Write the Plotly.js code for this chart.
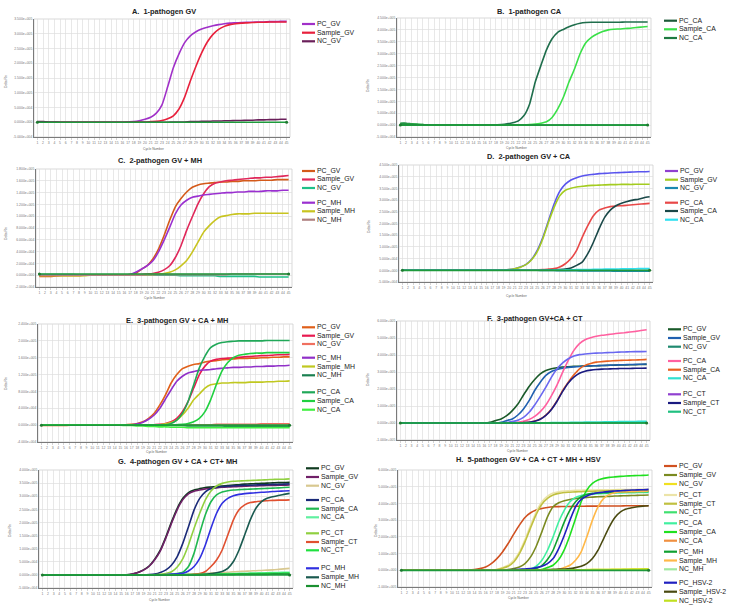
<!DOCTYPE html>
<html><head><meta charset="utf-8">
<script src="https://cdn.plot.ly/plotly-3.0.1.min.js"></script>
<style>html,body{margin:0;padding:0;background:#fff}#chart{width:732px;height:609px}</style>
</head><body><div id="chart"></div>
<script>
// x categories: PCR cycle numbers
const cycles = [1,2,3,4,5,6,7,8,9,10,11,12,13,14,15,16,17,18,19,20,21,22,23,24,25,26,27,28,29,30,31,32,33,34,35,36,37,38,39,40,41,42,43,44,45];

// all Delta Rn values in thousands
// ---- A
const A_PC_GV = [1,1,0,0,0, 0,0,0,0,0, 0,0,0,0,0, 0,1, 2,5,10,17,31, 59,120,185,232,270, 293,307,316,322,327, 331,334,336,337,338, 339,339,340,340,341, 341,342,342];
const A_Sample_GV = [1,1,0,0,0, 0,0,0,0,0, 0,0,0,0,0, 0,0,0,1,1, 2, 3,6,12,22,45, 85,140,190,235,272, 298,315,325,331,334, 336,337,338,339,339, 340,340,340,340];
const A_NC_GV = [2,2,1,1,0, 0,0,0,0,0, 0,0,0,0,0, 0,0,0,0,0, 0,0,0,0,1, 1,1,2,2,3, 3,4,4,5,5, 6,6,7,7,8, 8,9,9,10,10];
// ---- B
const B_PC_CA = [8,8,5,3,2, 1,1,0,0,0, 0,0,0,0,0, 0,0,1, 2,5,10,18,40, 89,181,250,316,363, 390,402,413,422,428, 431,432,432,432,432, 432,432,433,433,433, 433,433];
const B_Sample_CA = [6,6,4,3,2, 1,1,0,0,0, 0,0,0,0,0, 0,0,0,0,0, 0,1,1, 2,4,8,14,32, 68,117,181,237,301, 346,369,383,393,400, 403,404,406,407,410, 412,414];
const B_NC_CA = [4,4,3,2,1, 1,0,0,0,0, 0,0,0,0,0, 0,0,0,0,0, 0,0,0,0,0, 0,0,0,0,0, 0,0,0,0,0, 0,0,0,0,0, 0,0,0,0,0];
// ---- C
const C_PC_GV = [-2,-2,-2,-1,-1, -1,-1,-1,0,0, 0,0,0,0,0, 0, 1,3,10,16,27, 44,67,93,116,130, 141,149,153,155,156, 157,158,158,159,159, 160,160,160,161,161, 161,162,162,162];
const C_Sample_GV = [-1,-1,-1,-1,0, 0,0,0,0,0, 0,0,0,0,0, 0,0,1,1,2, 3, 5,9,16,30,50, 76,99,121,138,150, 156,158,160,161,162, 163,164,165,165,166, 166,167,168,169];
const C_NC_GV = [1,1,1,1,1, 1,1,0,0,0, 0,0,0,0,0, 0,0,0,0,0, 0,0,0,0,0, -1,-1,-1,-1,-1, -1,-1,-2,-2,-2, -2,-2,-2,-2,-3, -3,-3,-3,-3,-3];
const C_PC_MH = [0,0,0,0,0, 0,0,0,0,0, 0,0,0,0,0, 0,1, 5,10,16,24,39, 59,81,104,119,127, 132,134,136,137,138, 139,140,140,141,141, 142,142,142,143,143, 143,144,144];
const C_Sample_MH = [-1,-1,-1,-1,-1, -1,-1,-1,-1,0, 0,0,0,0,0, 0,0,0,0,1, 1,2, 3,5,9,16,25, 39,56,73,84,93, 99,101,103,104,104, 104,105,105,105,105, 105,105,105];
const C_NC_MH = [0,0,0,0,0, 0,0,0,0,0, 0,0,0,0,0, 0,0,0,0,1, 1,1,1,1,1, 1,1,1,1,1, 1,1,1,1,2, 2,2,2,2,2, 2,2,2,2,2];
// ---- D
const D_PC_GV = [0,0,0,0,0, 0,0,0,0,0, 0,0,0,0,0, 0,0,0,1,3, 7,14,25,47,85, 141,212,283,337,368, 386,396,403,407,410, 413,414,416,417,418, 419,420,421,421,422];
const D_Sample_GV = [0,0,0,0,0, 0,0,0,0,0, 0,0,0,0,0, 0,0,0,1,3, 7,13,24,45,80, 135,205,269,318,342, 351,356,359,362,363, 364,365,366,366,367, 367,367,368,368,368];
const D_NC_GV = [0,0,0,0,0, 0,0,0,0,0, 0,0,0,0,0, 0,0,0,0,0, 0,0,0,0,0, -1,-1,-1,-2,-2, -2,-2,-3,-3,-3, -3,-3,-3,-4,-4, -4,-4,-4,-4,-4];
const D_PC_CA = [0,0,0,0,0, 0,0,0,0,0, 0,0,0,0,0, 0,0,0,0,0, 0,0,1,1, 2,3,5,7,14, 28,50,85,141,191, 233,257,266,272,275, 276,278,280,282,284, 286];
const D_Sample_CA = [0,0,0,0,0, 0,0,0,0,0, 0,0,0,0,0, 0,0,0,0,0, 0,0,0,0,0, 1,1, 2,3,5,10,21, 35,71,120,177,226, 257,276,287,294,300, 304,310,314];
const D_NC_CA = [0,0,0,0,0, 0,0,0,0,0, 0,0,0,0,0, 0,0,0,0,0, 0,0,0,0,0, 0,0, 1,1,2,2,3, 3,3,4,4,5, 5,5,6,6,6, 7,7,7];
// ---- E
const E_PC_GV = [-1,-1,-1,-1,-1, 0,0,0,0,0, 0,0,0,0,0, 1,2, 4,8,16,28,48, 72,100,120,134,140, 144,146,150,152,153, 155,156,157,158,158, 159,159,160,160,161, 161,162,162];
const E_Sample_GV = [0,0,0,0,0, 0,0,0,0,0, 0,0,0,0,0, 0,0,0,0,0, 1,2, 4,8,16,32,56, 88,120,140,152,156, 158,159,160,161,162, 163,164,165,165,166, 167,167,168];
const E_NC_GV = [0,0,0,0,0, 0,0,0,0,0, 0,0,0,0,0, 0,0,0,0,0, 0,0,0,0,0, 1,1,1,1,1, 1,2,2,2,2, 2,2,2,2,3, 3,3,3,3,3];
const E_PC_MH = [0,0,0,0,0, 0,0,0,0,0, 0,0,0,0,0, 0,1, 3,7,14,24,40, 62,84,104,116,124, 127,130,131,132,134, 135,136,137,137,138, 138,139,139,140,140, 141,141,142];
const E_Sample_MH = [0,0,0,0,0, 0,0,0,0,0, 0,0,0,0,0, 0,0,0,0,0, 0,1, 3,6,12,24,40, 60,74,88,96,98, 100,100,101,101,101, 102,102,102,103,103, 104,104,105];
const E_NC_MH = [0,0,0,0,0, 0,0,0,0,0, 0,0,0,0,0, 0,0,0,0,0, -1,-1,-1,-1,-1, -1,-2,-2,-2,-2, -2,-2,-2,-3,-3, -3,-3,-3,-3,-3, -3,-3,-3,-3,-3];
const E_PC_CA = [0,0,0,0,0, 0,0,0,0,0, 0,0,0,0,0, 0,0,0,0,0, 0,0,1, 4,12,28,56,96, 136,164,184,192,196, 198,199,200,200,200, 200,200,201,201,201, 201,201];
const E_Sample_CA = [0,0,0,0,0, 0,0,0,0,0, 0,0,0,0,0, 0,0,0,0,0, 0,0,0,0,1,2, 4,8,16,32,60, 96,128,148,160,166, 168,170,171,171,172, 172,172,172,172];
const E_NC_CA = [0,0,0,0,0, 0,0,0,0,0, 0,0,0,0,0, -1,-1,-2,-2,-3, -3,-4,-4,-5,-5, -5,-6,-6,-6,-6, -6,-6,-6,-6,-6, -6,-6,-6,-6,-6, -6,-6,-6,-6,-6];
// ---- F
const F_PC_GV = [0,0,0,0,0, 0,0,0,0,0, 0,0,0,0,0, 0, 4,14,24,43,73, 112,165,215,256,289, 309,319,325,329,331, 333,334,335,336,337, 338,339,340,341,342, 343,343,344,345];
const F_Sample_GV = [0,0,0,0,0, 0,0,0,0,0, 0,0,0,0,0, 0,0,0, 4, 14,24,47,83,132, 191,240,280,303,315, 323,327,330,332,334, 336,337,338,340,341, 342,343,344,345,346, 347];
const F_NC_GV = [0,0,0,0,0, 0,0,0,0,0, 0,0,0,0,0, 0,0,0,0,0, 0,0,0,0,0, 0,0,0,0,0, 1,1,1,1,1, 1,2,2,2,2, 2,2,2,3,3];
const F_PC_CA = [0,0,0,0,0, 0,0,0,0,0, 0,0,0,0,0, 0,0,0,0,0, 2, 4,10,20,39,67, 106,161,224,299,368, 427,467,490,502,510, 516,520,524,528,531, 535,539,544,549];
const F_Sample_CA = [0,0,0,0,0, 0,0,0,0,0, 0,0,0,0,0, 0,0,0,0,0, 0,0,2, 4,12,24,47,83, 132,191,240,283,319, 339,350,358,361,364, 366,368,369,370,371, 372,374];
const F_NC_CA = [0,0,0,0,0, 0,0,0,0,0, 0,0,0,0,0, 0,0,0,0,0, 0,0,0,0,0, 1,1,2,2,3, 3,4,4,5,5, 6,6,7,7,8, 8,9,9,10,10];
const F_PC_CT = [0,0,0,0,0, 0,0,0,0,0, 0,0,0,0,0, 0,0,0,0, 3, 8,16,33,63,106, 157,211,270,319,354, 378,394,402,406,409, 411,412,414,415,417, 418,419,420,420,421];
const F_Sample_CT = [0,0,0,0,0, 0,0,0,0,0, 0,0,0,0,0, 0,0,0,0,0, 0,0,2, 4,10,22,45,80, 128,186,236,270,293, 305,311,315,317,318, 319,320,321,321,322, 322,323];
const F_NC_CT = [0,0,0,0,0, 0,0,0,0,0, 0,0,0,0,0, 0,0,0,0,0, 0,0,0,0,0, 0,0,0,0,0, 0,0,0,0,0, 0,0,0,0,0, 0,0,0,0,0];
// ---- G
const G_PC_GV = [0,0,0,0,0, 0,0,0,0,0, 0,0,0,0,0, 0, 3,9,19,34,60, 95,146,203,254,292, 314,324,329,333,335, 337,339,341,343,344, 346,347,348,349,350, 351,352,352,353];
const G_Sample_GV = [0,0,0,0,0, 0,0,0,0,0, 0,0,0,0,0, 0, 3,9,18,33,58, 92,142,198,249,287, 309,319,324,328,330, 332,334,335,336,337, 338,339,339,340,341, 341,342,342,343];
const G_NC_GV = [0,0,0,0,0, 0,0,0,0,0, 0,0,0,0,0, 0,0,0,0,0, 0,0,0,0,0, 1,2,3,4,6, 7,8,9,10,12, 13,14,15,16,17, 18,19,21,23,25];
const G_PC_CA = [0,0,0,0,0, 0,0,0,0,0, 0,0,0,0,0, 0,0,0,0, 1, 3,9,19,38,70, 121,184,248,292,317, 329,334,337,338,340, 341,342,342,343,344, 344,345,345,346,347];
const G_Sample_CA = [0,0,0,0,0, 0,0,0,0,0, 0,0,0,0,0, 0,0,0,0,0, 0,0,0, 2,5, 10,32,83,159,229, 279,305,316,321,324, 325,326,327,328,329, 330,331,332,333,334];
const G_NC_CA = [0,0,0,0,0, 0,0,0,0,0, 0,0,0,0,0, 0,0,0,0,0, 0,0,0,0,0, 1,1,2,2,3, 3,4,4,5,5, 6,6,7,7,8, 8,9,9,10,10];
const G_PC_CT = [0,0,0,0,0, 0,0,0,0,0, 0,0,0,0,0, 0,0,0,0,0, 0, 2,5,12,30,62, 114,178,235,286,320, 339,349,354,357,358, 359,360,361,362,363, 364,365,365,366];
const G_Sample_CT = [0,0,0,0,0, 0,0,0,0,0, 0,0,0,0,0, 0,0,0,0,0, 0,0,0,0,0, 0, 1,3, 5,13,32,57,95, 152,210,248,267,276, 279,282,283,284,285, 285,286];
const G_NC_CT = [0,0,0,0,0, 0,0,0,0,0, 0,0,0,0,0, 0,0,0,0,0, 0,0,0,0,0, 1,1,1,2,2, 2,3,3,3,4, 4,4,5,5,5, 6,6,6,7,7];
const G_PC_MH = [0,0,0,0,0, 0,0,0,0,0, 0,0,0,0,0, 0,0,0,0,0, 0,0, 1,3, 4,6,15,32,63, 114,178,235,273,292, 302,307,310,312,313, 315,316,318,319,320, 321];
const G_Sample_MH = [0,0,0,0,0, 0,0,0,0,0, 0,0,0,0,0, 0,0,0,0,0, 0,0,0,0,0, 0,0,0,0, 2,5, 8,13,25,51,95, 152,210,254,279,292, 298,303,307,311];
const G_NC_MH = [0,0,0,0,0, 0,0,0,0,0, 0,0,0,0,0, 0,0,0,0,0, 0,0,0,0,0, 0,0,0,0,0, 1,1,1,1,1, 2,2,2,2,2, 2,3,3,3,3];
// ---- H
const H_PC_GV = [2,2,1,1,0, 0,0,0,0,1, 1,1,1, 4,10,20,40,70, 110,160,216,270,316, 344,360,370,376,380, 381,382,382,383,383, 384,384,384,385,385, 385,385,386,386,386, 386,386];
const H_Sample_GV = [0,0,0,0,0, 0,0,0,0,0, 0,0,0,0,0, 0,0, 2,3, 5,10,20,40,80, 144,230,320,380,404, 416,424,430,433,436, 438,440,441,442,444, 445,446,447,448,449, 450];
const H_NC_GV = [2,2,1,0,0, 0,0,0,0,0, 0,0,0,0,0, 0,0,0,0,0, 0,0,0,0,0, 1,1,2,2,2, 3,3,3,4,4, 4,5,5,6,6, 6,7,7,8,8];
const H_PC_CT = [0,0,0,0,0, 0,0,0,0,0, 0,0,0,0,0, 1,2, 5,16,30,60,110, 184,270,350,410,444, 462,470,474,476,478, 479,480,480,481,481, 482,482,483,483,483, 484,484,484];
const H_Sample_CT = [0,0,0,0,0, 0,0,0,0,0, 0,0,0,0,0, 1,2, 4,12,24,50,100, 170,255,335,395,430, 450,460,465,467,469, 470,472,473,474,475, 476,477,477,478,478, 479,479,480];
const H_NC_CT = [0,0,0,0,0, 0,0,0,0,0, 0,0,0,0,0, 0,0,0,0,0, 0,0,0,0,0, 0,0,0,0,0, 1,1,1,1,1, 1,1,2,2,2, 2,2,2,2,2];
const H_PC_CA = [0,0,0,0,0, 0,0,0,0,0, 0,0,0,0,0, 0,0,0,0,0, 0, 2,4, 8,24,60,120,200, 290,360,410,436,448, 454,456,458,459,460, 462,463,464,464,465, 465,466];
const H_Sample_CA = [0,0,0,0,0, 0,0,0,0,0, 0,0,0,0,0, 0,0,0,0,0, 0,0,0, 2,3, 5,16,30,64,124, 210,310,410,480,520, 540,550,556,559,562, 564,566,567,568,570];
const H_NC_CA = [3,3,2,1,0, 0,0,0,0,0, 0,0,0,0,0, 0,0,0,0,0, 0,0,0,0,0, 0,0,0,0,0, 0,0,0,0,0, 0,0,0,0,0, 0,0,0,0,0];
const H_PC_MH = [0,0,0,0,0, 0,0,0,0,0, 0,0,0,0,0, 0,0,0,0,0, 0,0, 2,5, 10,28,64,120,204, 290,360,410,440,454, 460,462,464,465,466, 468,469,470,471,471, 472];
const H_Sample_MH = [0,0,0,0,0, 0,0,0,0,0, 0,0,0,0,0, 0,0,0,0,0, 0,0,0,0,0, 0, 2,3, 5,16,30,60,110, 200,300,380,430,454, 464,468,469,470,471, 472,474];
const H_NC_MH = [0,0,0,0,0, 0,0,0,0,0, 0,0,0,0,0, 0,0,0,0,0, 0,0,0,0,0, 0,0,0,0,0, 0,0,0,0,0, 0,0,0,0,0, 0,0,0,0,0];
const H_PC_HSV2 = [0,0,0,0,0, 0,0,0,0,0, 0,0,0,0,0, 0,0,0,0, 2,4, 6,8,10,16,24, 40,70,130,210,300, 380,424,444,456,464, 468,472,474,476,478, 480,481,482,484];
const H_Sample_HSV2 = [0,0,0,0,0, 0,0,0,0,0, 0,0,0,0,0, 0,0,0,0,0, 0,0,0,0,0, 2,4,6, 7,8,10,16,24, 40,70,120,190,260, 316,350,366,374,380, 384,386];
const H_NC_HSV2 = [0,0,0,0,0, 0,0,0,0,0, 0,0,0,0,0, 0,0,0,0,0, 0,0,0,0,0, 1,1,1,2,2, 2,3,3,3,4, 4,4,5,5,5, 6,6,6,7,7];

// threshold level of each panel (thousands)
const thresholdLevels = [0, 0, 2, 0, 0, 0, 0, 0];

// y-axis tick values (thousands) and labels
const ticks50_350 = [-50,0,50,100,150,200,250,300,350];
const labels50_350 = ["-5.000e+004","0.000e+000","5.000e+004","1.000e+005","1.500e+005","2.000e+005","2.500e+005","3.000e+005","3.500e+005"];
const ticks50_450 = [-50,0,50,100,150,200,250,300,350,400,450];
const labels50_450 = ["-5.000e+004","0.000e+000","5.000e+004","1.000e+005","1.500e+005","2.000e+005","2.500e+005","3.000e+005","3.500e+005","4.000e+005","4.500e+005"];
const ticks20_180 = [-20,0,20,40,60,80,100,120,140,160,180];
const labels20_180 = ["-2.000e+004","0.000e+000","2.000e+004","4.000e+004","6.000e+004","8.000e+004","1.000e+005","1.200e+005","1.400e+005","1.600e+005","1.800e+005"];
const ticks40_240 = [-40,0,40,80,120,160,200,240];
const labels40_240 = ["-4.000e+004","0.000e+000","4.000e+004","8.000e+004","1.200e+005","1.600e+005","2.000e+005","2.400e+005"];
const ticks100_600 = [-100,0,100,200,300,400,500,600];
const labels100_600 = ["-1.000e+005","0.000e+000","1.000e+005","2.000e+005","3.000e+005","4.000e+005","5.000e+005","6.000e+005"];
const ticks50_400 = [-50,0,50,100,150,200,250,300,350,400];
const labels50_400 = ["-5.000e+004","0.000e+000","5.000e+004","1.000e+005","1.500e+005","2.000e+005","2.500e+005","3.000e+005","3.500e+005","4.000e+005"];

const panels = [
 {title:"A.\u00a0 1-pathogen GV", box:[34,290,19,137], yRange:[-50,350], tv:ticks50_350, tt:labels50_350,
  tpos:[163.5,11.7], ypos:[6,82], xpos:[154,149], legX:302, legY:[24,32.7,41.3],
  series:[{name:"PC_GV",y:A_PC_GV,color:"#a030c8"},{name:"Sample_GV",y:A_Sample_GV,color:"#e8203c"},{name:"NC_GV",y:A_NC_GV,color:"#6a1f5a"}]},
 {title:"B.\u00a0 1-pathogen CA", box:[397,651,18,137], yRange:[-50,450], tv:ticks50_450, tt:labels50_450,
  tpos:[529.8,11.7], ypos:[368,86], xpos:[517,148], legX:664, legY:[20.7,29.3,38],
  series:[{name:"PC_CA",y:B_PC_CA,color:"#1f6e4c",key:"#1c5a38"},{name:"Sample_CA",y:B_Sample_CA,color:"#3ae048"},{name:"NC_CA",y:B_NC_CA,color:"#1e7a40"}]},
 {title:"C.\u00a0 2-pathogen GV + MH", box:[36,292,169,287], yRange:[-20,180], tv:ticks20_180, tt:labels20_180,
  tpos:[160.3,160.3], ypos:[6,234], xpos:[155,298], legX:302, legY:[171,179.5,188,202.7,211.3,219.7],
  series:[{name:"PC_GV",y:C_PC_GV,color:"#d45a1a"},{name:"Sample_GV",y:C_Sample_GV,color:"#e0285a"},{name:"NC_GV",y:C_NC_GV,color:"#1fc088"},
          {name:"PC_MH",y:C_PC_MH,color:"#9a30d0"},{name:"Sample_MH",y:C_Sample_MH,color:"#c8c420"},{name:"NC_MH",y:C_NC_MH,color:"#b08080"}]},
 {title:"D.\u00a0 2-pathogen GV + CA", box:[399,653,165,282], yRange:[-50,450], tv:ticks50_450, tt:labels50_450,
  tpos:[529.3,156.7], ypos:[369,226], xpos:[517,296], legX:665, legY:[171,179.7,188,202.7,211,219.7],
  series:[{name:"PC_GV",y:D_PC_GV,color:"#5a55ee",key:"#9040d0"},{name:"Sample_GV",y:D_Sample_GV,color:"#a4cc20"},{name:"NC_GV",y:D_NC_GV,color:"#1a88b0"},
          {name:"PC_CA",y:D_PC_CA,color:"#e84848"},{name:"Sample_CA",y:D_Sample_CA,color:"#1a4848"},{name:"NC_CA",y:D_NC_CA,color:"#30e0f0"}]},
 {title:"E.\u00a0 3-pathogen GV + CA + MH", box:[38,293,324,442], yRange:[-40,240], tv:ticks40_240, tt:labels40_240,
  tpos:[177,320], ypos:[6,384], xpos:[157,452], legX:302, legY:[327.3,335.7,344,357.7,366.5,375.3,392.3,401,409.7],
  series:[{name:"PC_GV",y:E_PC_GV,color:"#e0601a"},{name:"Sample_GV",y:E_Sample_GV,color:"#e81a50"},{name:"NC_GV",y:E_NC_GV,color:"#f07060"},
          {name:"PC_MH",y:E_PC_MH,color:"#9030c8"},{name:"Sample_MH",y:E_Sample_MH,color:"#c0c820"},{name:"NC_MH",y:E_NC_MH,color:"#1a8050"},
          {name:"PC_CA",y:E_PC_CA,color:"#20a858"},{name:"Sample_CA",y:E_Sample_CA,color:"#20d040"},{name:"NC_CA",y:E_NC_CA,color:"#40f040"}]},
 {title:"F.\u00a0 3-pathogen GV+CA + CT", box:[397,650,321,440], yRange:[-100,600], tv:ticks100_600, tt:labels100_600,
  tpos:[534.8,318.3], ypos:[368,380], xpos:[518,451], legX:668, legY:[329.3,338,346.7,361,369.7,378.3,394.3,403,411.7],
  series:[{name:"PC_GV",y:F_PC_GV,color:"#1a5a2a"},{name:"Sample_GV",y:F_Sample_GV,color:"#2060b0"},{name:"NC_GV",y:F_NC_GV,color:"#208a70"},
          {name:"PC_CA",y:F_PC_CA,color:"#ff60a0"},{name:"Sample_CA",y:F_Sample_CA,color:"#e86020"},{name:"NC_CA",y:F_NC_CA,color:"#30e0d0"},
          {name:"PC_CT",y:F_PC_CT,color:"#6a68f0",key:"#9040d0"},{name:"Sample_CT",y:F_Sample_CT,color:"#1a1a80"},{name:"NC_CT",y:F_NC_CT,color:"#20c080"}]},
 {title:"G.\u00a0 4-pathogen GV + CA + CT+ MH", box:[39,293,470,588], yRange:[-50,400], tv:ticks50_400, tt:labels50_400,
  tpos:[177.5,461], ypos:[10,531], xpos:[160,600], legX:306, legY:[468.3,477,485.7,500,508.7,517.3,533.3,542,550.3,568.3,577.3,586],
  series:[{name:"PC_GV",y:G_PC_GV,color:"#0f3a1f"},{name:"Sample_GV",y:G_Sample_GV,color:"#702068"},{name:"NC_GV",y:G_NC_GV,color:"#d8c890"},
          {name:"PC_CA",y:G_PC_CA,color:"#1a2a78"},{name:"Sample_CA",y:G_Sample_CA,color:"#20b850"},{name:"NC_CA",y:G_NC_CA,color:"#60f0a0"},
          {name:"PC_CT",y:G_PC_CT,color:"#90d040"},{name:"Sample_CT",y:G_Sample_CT,color:"#e05030"},{name:"NC_CT",y:G_NC_CT,color:"#20e040"},
          {name:"PC_MH",y:G_PC_MH,color:"#3030e0"},{name:"Sample_MH",y:G_Sample_MH,color:"#1a5a50"},{name:"NC_MH",y:G_NC_MH,color:"#1a9030"}]},
 {title:"H.\u00a0 5-pathogen GV + CA + CT + MH + HSV", box:[398,652,470,587], yRange:[-100,600], tv:ticks100_600, tt:labels100_600,
  tpos:[528.5,459.5], ypos:[376,531], xpos:[519,598], legX:664, legY:[466,475,484,495,503.7,512.3,523.3,532,540.7,551.7,560.5,569.3,582.7,591.7,600.7],
  series:[{name:"PC_GV",y:H_PC_GV,color:"#d05020"},{name:"Sample_GV",y:H_Sample_GV,color:"#7a8a20"},{name:"NC_GV",y:H_NC_GV,color:"#f0e020"},
          {name:"PC_CT",y:H_PC_CT,color:"#ece4a8"},{name:"Sample_CT",y:H_Sample_CT,color:"#c0c040"},{name:"NC_CT",y:H_NC_CT,color:"#40e070"},
          {name:"PC_CA",y:H_PC_CA,color:"#40f0a0"},{name:"Sample_CA",y:H_Sample_CA,color:"#20e020"},{name:"NC_CA",y:H_NC_CA,color:"#f09040"},
          {name:"PC_MH",y:H_PC_MH,color:"#10a030"},{name:"Sample_MH",y:H_Sample_MH,color:"#ffb848"},{name:"NC_MH",y:H_NC_MH,color:"#a0e8a0"},
          {name:"PC_HSV-2",y:H_PC_HSV2,color:"#2020c0"},{name:"Sample_HSV-2",y:H_Sample_HSV2,color:"#4a4a10"},{name:"NC_HSV-2",y:H_NC_HSV2,color:"#c0e020"}]}
];

const W = 732, H = 609;
const FONT = "Liberation Sans, Arial, Helvetica, sans-serif";
const traces = [], shapes = [], annotations = [];
const layout = {width:W, height:H, margin:{l:0,r:0,t:0,b:0}, paper_bgcolor:"#fff", plot_bgcolor:"#fff",
  showlegend:false, font:{family:FONT, color:"#333"}};

panels.forEach((p, i) => {
  const n = i + 1, sfx = n === 1 ? "" : String(n);
  const xa = "x" + sfx, ya = "y" + sfx;
  layout["xaxis" + sfx] = {domain:[p.box[0]/W, p.box[1]/W], anchor:ya, range:[0.4,45.6],
    tickvals:cycles, ticktext:cycles.map(String), tickfont:{size:3.4, color:"#777"}, tickangle:0,
    showgrid:true, gridcolor:"#dedede", gridwidth:0.7, zeroline:false,
    showline:true, linecolor:"#7a7a7a", linewidth:1, ticks:"outside", ticklen:1.5, tickcolor:"#aaa", tickwidth:0.5, fixedrange:true};
  layout["yaxis" + sfx] = {domain:[1 - p.box[3]/H, 1 - p.box[2]/H], anchor:xa, range:p.yRange,
    tickvals:p.tv, ticktext:p.tt, tickfont:{size:3.4, color:"#777"},
    showgrid:true, gridcolor:"#dedede", gridwidth:0.7, zeroline:false,
    showline:true, linecolor:"#7a7a7a", linewidth:1, ticks:"", fixedrange:true};
  shapes.push({type:"rect", xref:xa + " domain", yref:ya + " domain", x0:0, x1:1, y0:0, y1:1,
    line:{color:"#cfcfcf", width:0.8}, layer:"below"});
  p.series.forEach(s => traces.push({x:cycles, y:s.y, xaxis:xa, yaxis:ya, type:"scatter", mode:"lines",
    name:s.name, line:{color:s.color, width:1.6, shape:"spline", smoothing:0.5}, hoverinfo:"skip"}));
  const thr = cycles.map(() => thresholdLevels[i]);
  traces.push({x:cycles, y:thr, xaxis:xa, yaxis:ya, type:"scatter", mode:"lines",
    name:"Threshold", line:{color:"#1e9a3c", width:1.7}, hoverinfo:"skip"});
  traces.push({x:[cycles[0], cycles[cycles.length-1]], y:[thresholdLevels[i], thresholdLevels[i]], xaxis:xa, yaxis:ya,
    type:"scatter", mode:"markers", name:"Threshold ends", marker:{color:"#1e7a30", size:3}, hoverinfo:"skip"});
  // titles
  annotations.push({xref:"paper", yref:"paper", x:p.tpos[0]/W, y:1 - p.tpos[1]/H, text:"<b>" + p.title + "</b>",
    showarrow:false, xanchor:"center", yanchor:"middle", font:{size:7.4, color:"#222", family:FONT}});
  annotations.push({xref:"paper", yref:"paper", x:p.ypos[0]/W, y:1 - p.ypos[1]/H, text:"Delta Rn", textangle:-90,
    showarrow:false, xanchor:"center", yanchor:"middle", font:{size:3.3, color:"#666", family:FONT}});
  annotations.push({xref:"paper", yref:"paper", x:p.xpos[0]/W, y:1 - p.xpos[1]/H, text:"Cycle Number",
    showarrow:false, xanchor:"center", yanchor:"middle", font:{size:3.3, color:"#666", family:FONT}});
  // legend
  p.series.forEach((s, j) => {
    const yy = 1 - p.legY[j]/H;
    shapes.push({type:"line", xref:"paper", yref:"paper", x0:p.legX/W, x1:(p.legX + 13)/W, y0:yy, y1:yy,
      line:{color:s.key || s.color, width:2.2}});
    annotations.push({xref:"paper", yref:"paper", x:(p.legX + 15)/W, y:yy, text:s.name, showarrow:false,
      xanchor:"left", yanchor:"middle", borderpad:0, borderwidth:0, font:{size:6.9, color:"#222", family:FONT}});
  });
});
layout.shapes = shapes;
layout.annotations = annotations;
Plotly.newPlot("chart", traces, layout, {staticPlot:true, displayModeBar:false});
</script>
</body></html>
